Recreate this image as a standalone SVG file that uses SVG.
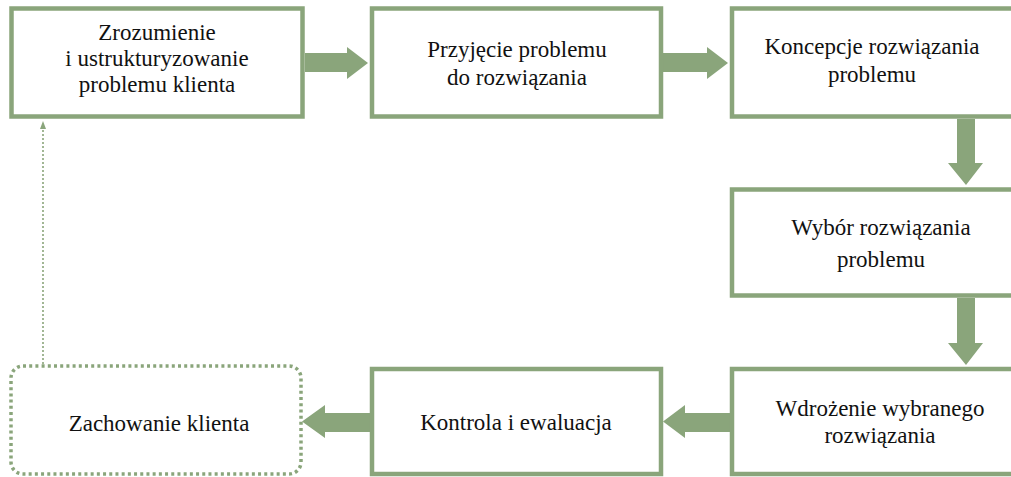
<svg xmlns="http://www.w3.org/2000/svg" width="1011" height="477" viewBox="0 0 1011 477">
  <style>
    .box { fill: #ffffff; stroke: #8aa57b; stroke-width: 4.5; }
    .dotbox { fill: #ffffff; stroke: #8aa57b; stroke-width: 3.5; stroke-dasharray: 3 3.2; }
    .arrow { fill: #8aa57b; }
    .thin { fill: none; stroke: #8aa57b; stroke-width: 1.6; stroke-dasharray: 2 2; }
    text { font-family: "Liberation Serif", "DejaVu Serif", serif; font-size: 23px; fill: #111111; text-anchor: middle; }
  </style>
  <rect width="1011" height="477" fill="#ffffff"/>

  <g id="connectors">
    <!-- block arrows between process steps -->
    <polygon class="arrow" points="305,53 347,53 347,47 368,63 347,79 347,72 305,72"/>
    <polygon class="arrow" points="663,53 707,53 707,47 728,63 707,79 707,72 663,72"/>
    <polygon class="arrow" points="957,119 975,119 975,163 983,163 966,185 948,163 957,163"/>
    <polygon class="arrow" points="957,298 975,298 975,343 983,343 966,365 948,343 957,343"/>
    <polygon class="arrow" points="730,413 685,413 685,405 663,421.5 685,438 685,432 730,432"/>
    <polygon class="arrow" points="370,413 325,413 325,405 302,421.5 325,438 325,432 370,432"/>
    <!-- dotted feedback line back to the first step -->
    <line class="thin" x1="43" y1="364" x2="43" y2="128"/>
    <polygon class="arrow" points="43,121 46,129 40,129"/>
  </g>

  <g id="node-zrozumienie">
    <rect class="box" x="11.5" y="8.5" width="291" height="108"/>
    <text x="157" y="40">Zrozumienie</text>
    <text x="157" y="66">i ustrukturyzowanie</text>
    <text x="157" y="92">problemu klienta</text>
  </g>

  <g id="node-przyjecie">
    <rect class="box" x="372" y="8.5" width="289" height="108"/>
    <text x="517" y="57">Przyjęcie problemu</text>
    <text x="517" y="85">do rozwiązania</text>
  </g>

  <g id="node-koncepcje">
    <rect class="box" x="732" y="8.5" width="300" height="108"/>
    <text x="872" y="54">Koncepcje rozwiązania</text>
    <text x="872" y="82">problemu</text>
  </g>

  <g id="node-wybor">
    <rect class="box" x="732" y="189.5" width="300" height="106"/>
    <text x="881" y="235">Wybór rozwiązania</text>
    <text x="881" y="267">problemu</text>
  </g>

  <g id="node-wdrozenie">
    <rect class="box" x="732" y="369" width="300" height="105"/>
    <text x="880" y="416">Wdrożenie wybranego</text>
    <text x="880" y="443">rozwiązania</text>
  </g>

  <g id="node-kontrola">
    <rect class="box" x="372" y="369" width="289" height="105"/>
    <text x="516" y="430">Kontrola i ewaluacja</text>
  </g>

  <g id="node-zachowanie">
    <rect class="dotbox" x="11" y="366" width="290" height="108" rx="12" ry="12"/>
    <text x="159" y="431">Zachowanie klienta</text>
  </g>
</svg>
